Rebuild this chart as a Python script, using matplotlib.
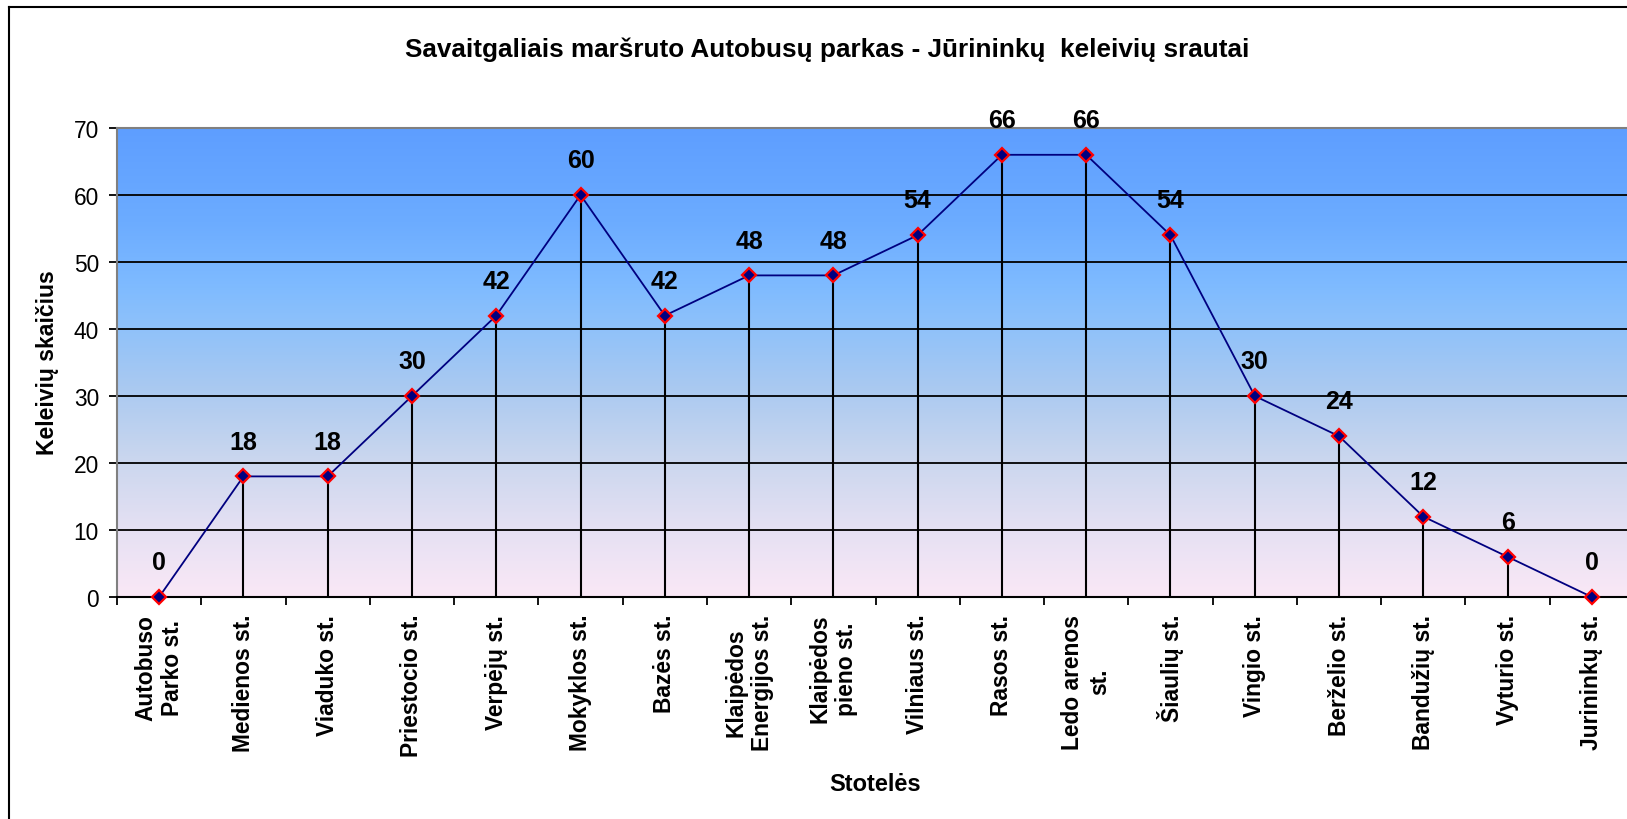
import numpy as np
import matplotlib

matplotlib.use("Agg")
import matplotlib.pyplot as plt
from matplotlib.colors import LinearSegmentedColormap
from matplotlib.lines import Line2D

plt.rcParams["font.family"] = ["Liberation Sans", "DejaVu Sans"]

stops = [
    "Autobuso\nParko st.", "Medienos st.", "Viaduko st.", "Priestocio st.",
    "Verpėjų st.", "Mokyklos st.", "Bazės st.", "Klaipėdos\nEnergijos st.",
    "Klaipėdos\npieno st.", "Vilniaus st.", "Rasos st.", "Ledo arenos\nst.",
    "Šiaulių st.", "Vingio st.", "Berželio st.", "Bandužių st.",
    "Vyturio st.", "Jurininkų st.",
]
passengers = [0, 18, 18, 30, 42, 60, 42, 48, 48, 54, 66, 66, 54, 30, 24, 12, 6, 0]
y_ticks = [0, 10, 20, 30, 40, 50, 60, 70]

W, H = 1627, 820
fig = plt.figure(figsize=(W / 100, H / 100), dpi=100)
fig.patch.set_facecolor("white")

# plot area runs past the right edge of the picture, as in the original
left, right, top, bottom = 117, 1634, 129, 598
ax = fig.add_axes([left / W, 1 - bottom / H, (right - left) / W, (bottom - top) / H])

x = np.arange(len(stops))
n = len(stops)

# vertical background gradient: pink at the bottom to blue at the top
grad = LinearSegmentedColormap.from_list(
    "bg",
    [(0.0, "#fae8f6"), (0.15, "#e4e0f3"), (0.3, "#c9d6ee"), (0.45, "#a9c9f1"),
     (0.58, "#8ec1fa"), (0.66, "#7fbbff"), (0.8, "#6cacff"), (1.0, "#5e9eff")],
)
ax.imshow(np.linspace(0, 1, 256).reshape(-1, 1), cmap=grad, origin="lower",
          extent=[-0.5, n - 0.5, 0, 70], aspect="auto", zorder=0)

for t in y_ticks[1:]:
    ax.axhline(t, color="black", lw=1.3, zorder=1)

ax.vlines(x, 0, passengers, color="black", lw=1.5, zorder=2)
ax.plot(x, passengers, color="#000080", lw=1.3, marker="D", markersize=7.5,
        markerfacecolor="#000080", markeredgecolor="red", markeredgewidth=1.6,
        zorder=3, clip_on=False)

for xi, v in zip(x, passengers):
    ax.annotate(str(v), (xi, v), xytext=(0, 25), textcoords="offset points",
                ha="center", va="center", fontsize=18, fontweight="bold",
                annotation_clip=False)

ax.set_xlim(-0.5, n - 0.5)
ax.set_ylim(0, 70)
ax.set_yticks(y_ticks)
ax.tick_params(axis="y", labelsize=16.4, length=6, width=1.3, pad=7)

ax.set_xticks(x)
ax.set_xticklabels(stops, rotation=90, fontsize=16.4, fontweight="bold",
                   ha="center", va="top", multialignment="center")
ax.set_xticks(np.arange(-0.5, n, 1), minor=True)
ax.tick_params(axis="x", which="major", length=0, pad=12)
ax.tick_params(axis="x", which="minor", length=6, width=1.3)

for side in ["left", "top", "right"]:
    ax.spines[side].set_color("#808080")
    ax.spines[side].set_linewidth(1.5)
ax.spines["bottom"].set_color("black")
ax.spines["bottom"].set_linewidth(1.5)

fig.text(827 / W, 1 - 50 / H,
         "Savaitgaliais maršruto Autobusų parkas - Jūrininkų  keleivių srautai",
         ha="center", va="center", fontsize=18.8, fontweight="bold")
fig.text(875 / W, 1 - 785 / H, "Stotelės", ha="center", va="center",
         fontsize=17, fontweight="bold")
fig.text(48 / W, 1 - 363 / H, "Keleivių skaičius", ha="center", va="center",
         rotation=90, fontsize=16.6, fontweight="bold")

# chart frame (right and bottom edges lie outside the picture)
fig.add_artist(Line2D([9 / W, 9 / W], [0, 1 - 8 / H], color="black", lw=1.5))
fig.add_artist(Line2D([9 / W, 1], [1 - 8 / H, 1 - 8 / H], color="black", lw=1.5))

fig.savefig("out.png", dpi=100)
